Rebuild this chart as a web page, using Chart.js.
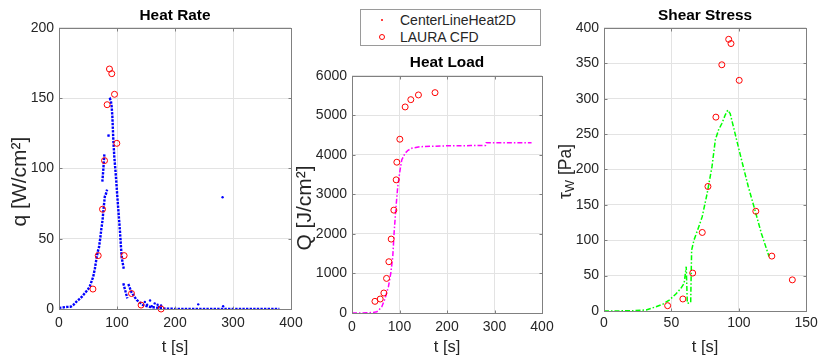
<!DOCTYPE html>
<html>
<head>
<meta charset="utf-8">
<script src="https://cdn.jsdelivr.net/npm/chart.js@4.4.1/dist/chart.umd.min.js"></script>
<style>
  body { margin: 0; background: #fff; }
  #wrap { position: relative; width: 822px; height: 358px; overflow: hidden; font-family: 'Liberation Sans', Arial, sans-serif; }
  canvas { position: absolute; top: 0; }
  #legend { position: absolute; left: 360px; top: 9px; width: 179px; height: 35px; border: 1px solid #9a9a9a; background: #fff; font-size: 14px; color: #262626; }
  #legend .row { position: absolute; left: 39px; height: 17px; line-height: 17px; white-space: nowrap; }
  #legend .dot { position: absolute; left: 19.5px; top: 8.8px; width: 2.5px; height: 2.5px; border-radius: 50%; background: #ff0000; }
  #legend .ring { position: absolute; left: 17.5px; top: 23.5px; width: 4.5px; height: 4.5px; border-radius: 50%; border: 1px solid #ff0000; }
</style>
</head>
<body>
<div id="wrap">
  <canvas id="rateChart" width="310" height="358" style="left:0px"></canvas>
  <canvas id="loadChart" width="270" height="358" style="left:290px"></canvas>
  <canvas id="shearChart" width="272" height="358" style="left:550px"></canvas>
  <div id="legend">
    <span class="dot"></span><span class="ring"></span>
    <div class="row" style="top:1.5px">CenterLineHeat2D</div>
    <div class="row" style="top:18.5px">LAURA CFD</div>
  </div>
</div>
<script>
// ---- heat rate (CenterLineHeat2D), null entries break the trace ----
const rateT = [0, 5, 10, 15, 20, 25, 30, 35, 40, 45, 50, 53, 56, 59, 62, 65, 67, 69, 71, 73, 75, 77, 79, 81, 83, null,
  74.7, 76, 77, 78.2, null,
  85, 86, null,
  86.8, 88, 89.5, 90.8, 92, 93.7, 95.4, 97.7, 101, 105, 108, 112, null,
  110.9, 117.8, null,
  119.5, 125.3, 134, 145, 155, 162.6, 175, 185.6, 200, 250, 300, 350, 380];
const rateQ = [0.8, 1.0, 1.3, 1.5, 1.6, 3.0, 5.2, 7.0, 9.0, 11.5, 14.0, 16, 19.5, 23, 29, 37, 41, 44, 50, 57, 63, 72, 80, 82, 85, null,
  90.6, 97, 103, 110, null,
  122.6, 125, null,
  149, 149.5, 148, 144, 137, 120, 108, 96.6, 77.6, 56, 37, 27.8, null,
  18.3, 7.6, null,
  17.8, 11.6, 6.4, 2.8, 1.6, 1.2, 0.6, 0.2, 0.1, 0.1, 0.1, 0.1, 0.1];
// stray samples away from the main trace
const rateStrayT = [148, 152, 157, 160, 165, 170, 172, 176, 240, 283, 282];
const rateStrayQ = [5, 3, 6, 2, 4, 3, 1.5, 2.5, 3.3, 2, 79.5];
// LAURA CFD heat rate
const lauraRateT = [58.5, 67.6, 75, 78.5, 83, 87, 91, 95.7, 99.7, 112.3, 125, 141.5, 176];
const lauraRateQ = [14.2, 38, 71, 105.6, 145.4, 170.8, 167.5, 152.8, 117.9, 38, 11, 2.8, 0];

// ---- heat load ----
const loadT = [0, 10, 20, 30, 40, 45, 52.4, 57, 62.8, 69.7, 76.7, 81.6, 85.8, 88.6, 92.1, 96.3, 101.2, 104.7, 111.6, 118, 125.7, 143, 170, 205.9, 250, 281, 282.5, 300, 340, 378];
const loadQ = [0, 0, 2, 5, 10, 15, 33, 80, 160, 372, 666, 1005, 1425, 2017, 2608, 3198, 3620, 3873, 4043, 4120, 4170, 4210, 4222, 4235, 4237, 4240, 4310, 4312, 4312, 4312];
const lauraLoadT = [48.3, 59.4, 67.1, 72.7, 77.6, 82.5, 88.1, 93, 94.4, 100.7, 111.9, 123.8, 139.9, 174.8];
const lauraLoadQ = [295, 354, 506, 876, 1298, 1871, 2604, 3371, 3817, 4399, 5216, 5401, 5520, 5578];

// ---- shear stress ----
const shearT = [0, 20, 31.3, 38.6, 44, 48.4, 53.3, 57, 59.4, 61, 61.8, 64.3, 65, 66.7, 70.3, 72.8, 76.5, 80.1, 82.6, 85, 87.4, 89.9, 91.8, 93.6, 97.2, 102.1, 107, 111.9, 116.7, 122.4];
const shearTau = [0, 0.3, 1.4, 6, 10, 15.5, 24, 32, 39, 62.6, 11, 11.8, 86, 100, 119, 133, 166, 204, 242, 256, 265, 277, 284, 279, 251, 213, 176, 143, 110, 77];
const lauraShearT = [47.2, 58.5, 65.8, 72.9, 77.1, 83, 87.4, 92.5, 94.2, 100.3, 112.6, 124.5, 139.7];
const lauraShearTau = [7.5, 17, 53.6, 111, 176, 274, 348, 384, 378, 326, 141, 77.6, 44];

const INK = '#262626';
const GRID = '#e3e3e3';
const BOX = '#808080';

Chart.defaults.font.family = "'Liberation Sans', Arial, sans-serif";
Chart.defaults.color = INK;
Chart.defaults.animation = false;

const pts = (xs, ys) => xs.map((x, i) => ({ x: x, y: ys[i] }));

// axes box with inward tick marks, drawn over the data
const frame = {
  id: 'frame',
  afterDatasetsDraw(chart) {
    const { ctx, chartArea: a, scales } = chart;
    const l = Math.round(a.left) + 0.5, r = Math.round(a.right) + 0.5;
    const t = Math.round(a.top) + 0.5, b = Math.round(a.bottom) + 0.5;
    ctx.save();
    ctx.strokeStyle = BOX;
    ctx.lineWidth = 1;
    ctx.strokeRect(l, t, r - l, b - t);
    ctx.beginPath();
    scales.x.ticks.forEach(tk => {
      const px = Math.round(scales.x.getPixelForValue(tk.value)) + 0.5;
      ctx.moveTo(px, b); ctx.lineTo(px, b - 3);
      ctx.moveTo(px, t); ctx.lineTo(px, t + 3);
    });
    scales.y.ticks.forEach(tk => {
      const py = Math.round(scales.y.getPixelForValue(tk.value)) + 0.5;
      ctx.moveTo(l, py); ctx.lineTo(l + 3, py);
      ctx.moveTo(r, py); ctx.lineTo(r - 3, py);
    });
    ctx.stroke();
    ctx.restore();
  }
};

// rotated y label, allows a lowered (subscript) part
const yLabel = {
  id: 'yLabel',
  afterDraw(chart, args, opts) {
    const { ctx, chartArea } = chart;
    const font = s => s + "px 'Liberation Sans', Arial, sans-serif";
    ctx.save();
    ctx.translate(opts.x, (chartArea.top + chartArea.bottom) / 2 + opts.shift);
    ctx.rotate(-Math.PI / 2);
    ctx.fillStyle = INK;
    ctx.textBaseline = 'middle';
    let w = 0;
    opts.parts.forEach(p => { ctx.font = font(p.size); w += ctx.measureText(p.text).width; });
    let x = -w / 2;
    opts.parts.forEach(p => {
      ctx.font = font(p.size);
      ctx.fillText(p.text, x, p.dy || 0);
      x += ctx.measureText(p.text).width;
    });
    ctx.restore();
  }
};

function xAxis(max, step, pad, height) {
  return {
    type: 'linear', min: 0, max: max,
    ticks: { stepSize: step, padding: pad, font: { size: 14 }, color: INK, callback: v => String(v) },
    grid: { color: GRID, drawTicks: false },
    border: { display: false },
    title: { display: true, text: 't [s]', font: { size: 16.5 }, padding: { top: 0, bottom: 1.1 }, color: INK },
    afterFit(s) { s.height = height; }
  };
}

function yAxis(max, step, width) {
  return {
    type: 'linear', min: 0, max: max,
    ticks: { stepSize: step, padding: 5, font: { size: 14 }, color: INK, callback: v => String(v) },
    grid: { color: GRID, drawTicks: false },
    border: { display: false },
    afterFit(s) { s.width = width; }
  };
}

function title(text, top, bottom) {
  return { display: true, text: text, fullSize: false, color: '#000',
    font: { size: 15.4, weight: 'bold' }, padding: { top: top, bottom: bottom } };
}

function lauraSet(xs, ys) {
  return {
    label: 'LAURA CFD', data: pts(xs, ys), showLine: false, clip: false,
    pointStyle: 'circle', pointRadius: 3, pointBorderWidth: 1,
    pointBorderColor: '#ff0000', pointBackgroundColor: 'rgba(0,0,0,0)'
  };
}

const basePlugins = { legend: { display: false }, tooltip: { enabled: false } };

const config_rate = {
  type: 'scatter',
  data: {
    datasets: [
      lauraSet(lauraRateT, lauraRateQ),
      { label: 'CenterLineHeat2D', data: pts(rateT, rateQ), showLine: true, spanGaps: false,
        borderColor: '#0000ff', borderWidth: 2.4, borderDash: [2.4, 1.2], pointRadius: 0, clip: 2 },
      { label: 'stray', data: pts(rateStrayT, rateStrayQ), showLine: false,
        pointRadius: 1.2, pointBorderWidth: 0, pointBackgroundColor: '#0000ff' }
    ]
  },
  options: {
    responsive: false,
    layout: { padding: { left: 0, right: 19, top: 0, bottom: 0 } },
    scales: { x: xAxis(400, 100, 5.6, 49), y: yAxis(200, 50, 59) },
    plugins: Object.assign({}, basePlugins, {
      title: title('Heat Rate', 7, 2.5),
      yLabel: { x: 20, shift: 13, parts: [{ text: 'q [W/cm²]', size: 21 }] }
    })
  },
  plugins: [frame, yLabel]
};

const config_load = {
  type: 'scatter',
  data: {
    datasets: [
      lauraSet(lauraLoadT, lauraLoadQ),
      { label: 'CenterLineHeat2D', data: pts(loadT, loadQ), showLine: true,
        borderColor: '#ff00ff', borderWidth: 1.5, borderDash: [5, 2, 1.5, 2], pointRadius: 0 }
    ]
  },
  options: {
    responsive: false,
    layout: { padding: { left: 0, right: 18, top: 0, bottom: 0 } },
    scales: { x: xAxis(400, 100, 5.6, 45), y: yAxis(6000, 1000, 62) },
    plugins: Object.assign({}, basePlugins, {
      title: title('Heat Load', 53.3, 4.2),
      yLabel: { x: 15, shift: 13.5, parts: [{ text: 'Q [J/cm²]', size: 21 }] }
    })
  },
  plugins: [frame, yLabel]
};

const config_shear = {
  type: 'scatter',
  data: {
    datasets: [
      lauraSet(lauraShearT, lauraShearTau),
      { label: 'CenterLineHeat2D', data: pts(shearT, shearTau), showLine: true,
        borderColor: '#00ff00', borderWidth: 1.5, borderDash: [5, 2, 1.5, 2], pointRadius: 0 }
    ]
  },
  options: {
    responsive: false,
    layout: { padding: { left: 0, right: 13.3, top: 0, bottom: 0 } },
    scales: { x: xAxis(150, 50, 4.1, 47), y: yAxis(400, 50, 54) },
    plugins: Object.assign({}, basePlugins, {
      title: title('Shear Stress', 7, 2.5),
      yLabel: { x: 16, shift: 2, parts: [
        { text: 'τ', size: 17.5 }, { text: 'W', size: 13, dy: 4.5 }, { text: ' [Pa]', size: 17.5 }
      ] }
    })
  },
  plugins: [frame, yLabel]
};

const rateChart = new Chart(document.getElementById('rateChart'), config_rate);
const loadChart = new Chart(document.getElementById('loadChart'), config_load);
const shearChart = new Chart(document.getElementById('shearChart'), config_shear);
</script>
</body>
</html>
